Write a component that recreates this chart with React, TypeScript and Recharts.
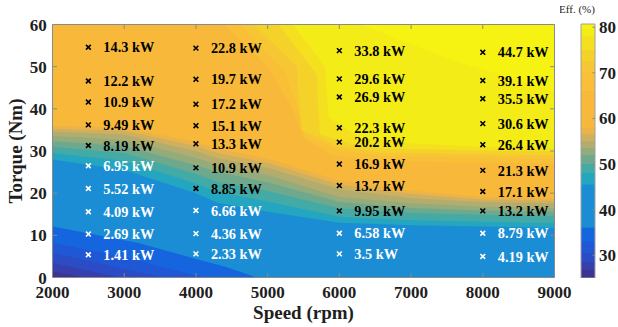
import React from 'react';
import {
  ComposedChart,
  Area,
  Scatter,
  XAxis,
  YAxis,
  ReferenceArea,
  ReferenceLine,
  Label,
} from 'recharts';

const SERIF = '"Liberation Serif", "Times New Roman", serif';

// ---- axes ----
const SPEED_TICKS = [2000, 3000, 4000, 5000, 6000, 7000, 8000, 9000];
const TORQUE_TICKS = [0, 10, 20, 30, 40, 50, 60];
const EFF_TICKS = [30, 40, 50, 60, 70, 80];
const SPEED_RANGE = [2000, 9000];
const TORQUE_RANGE = [0, 60];
const EFF_RANGE = [25, 80.7];

// ---- efficiency contours: [speed (rpm), torque (Nm)] ----
// above each curve the efficiency is at least the matching level
const C_25 = [[2000, 0], [9000, 0]];
const C_26_8 = [[2000, 1.4], [2450, 0], [9000, 0]];
const C_28_5 = [[2000, 3.5], [2930, 0], [9000, 0]];
const C_30_5 = [[2000, 5.8], [3530, 0], [9000, 0]];
const C_33 = [[2000, 8.2], [3000, 4.8], [4100, 0], [9000, 0]];
const C_36 = [[2000, 12.1], [3200, 8.2], [4000, 4.4], [4400, 2.6], [4850, 0], [9000, 0]];
const C_45_5 = [[2000, 28.0], [3000, 25.5], [4000, 20.0], [4300, 17.7], [5000, 15.6], [6000, 13.0], [7000, 12.4], [8000, 12.1], [9000, 11.8]];
const C_48 = [[2000, 29.5], [3000, 27.6], [4000, 22.3], [4300, 20.3], [5000, 18.0], [6000, 14.4], [7000, 13.6], [8000, 13.2], [9000, 12.9]];
const C_50 = [[2000, 31.0], [3000, 29.5], [4000, 24.6], [4300, 22.7], [5000, 20.5], [6000, 16.4], [7000, 15.3], [8000, 14.9], [9000, 14.6]];
const C_52 = [[2000, 32.4], [3000, 31.2], [4000, 26.6], [4300, 25.0], [5000, 22.6], [6000, 17.9], [7000, 16.5], [8000, 15.9], [9000, 15.6]];
const C_53_5 = [[2000, 33.6], [3000, 32.6], [4000, 28.4], [4300, 26.6], [5000, 24.3], [6000, 19.1], [7000, 17.6], [8000, 16.8], [9000, 16.5]];
const C_55 = [[2000, 34.6], [3000, 33.9], [4000, 30.0], [4300, 28.3], [5000, 26.0], [6000, 20.9], [7000, 18.8], [8000, 17.9], [9000, 17.6]];
const C_56_5 = [[2000, 35.3], [3000, 34.8], [4000, 31.2], [4300, 29.5], [5000, 27.2], [6000, 22.0], [7000, 19.8], [8000, 18.5], [9000, 18.2]];
const C_58 = [[2000, 36.0], [3000, 35.5], [4000, 32.2], [4300, 30.6], [5000, 28.2], [6000, 23.0], [7000, 20.6], [8000, 19.1], [9000, 18.8]];
const C_66 = [[2000, 60], [4400, 60], [5000, 50], [5350, 40], [5500, 33], [5900, 29], [6600, 27.6], [8000, 27.2], [9000, 27.0]];
const C_70 = [[2000, 60], [4620, 60], [5250, 48.5], [5420, 40], [5520, 33.5], [6000, 30.2], [6600, 28.8], [8000, 28.4], [9000, 28.2]];
const C_72_5 = [[2000, 60], [4800, 60], [5410, 50], [5430, 43], [5480, 35], [6000, 31.0], [6600, 29.6], [8000, 29.2], [9000, 29.0]];
const C_75 = [[2000, 60], [5150, 60], [5690, 48], [5700, 41.6], [5730, 34], [6200, 31.5], [6600, 30.6], [8000, 30.1], [9000, 29.9]];
const C_78 = [[2000, 60], [5350, 60], [5800, 50], [5850, 38], [6300, 33], [7000, 31.8], [8000, 31.0], [9000, 30.6]];
const C_79_5 = [[2000, 60], [6300, 60], [7500, 52], [9000, 44]];

const LEVELS = [25, 26.8, 28.5, 30.5, 33, 36, 45.5, 48, 50, 52, 53.5, 55, 56.5, 58, 66, 70, 72.5, 75, 78, 79.5];
const LEVEL_COLORS = [
  '#3b3492', '#3540ad', '#2b4cc4', '#1f57d5', '#1465de', '#1a8dd4',
  '#24a5c0', '#44aaa6', '#6fa98d', '#94ab7c', '#b2ad6e', '#cfb05e',
  '#ecb348', '#f8b93b', '#f8bf37', '#f7c634', '#f5d22a', '#f4e01f',
  '#f4ec16', '#f6f212',
];
const CONTOURS = [
  C_25, C_26_8, C_28_5, C_30_5, C_33, C_36, C_45_5, C_48, C_50, C_52,
  C_53_5, C_55, C_56_5, C_58, C_66, C_70, C_72_5, C_75, C_78, C_79_5,
];

// ---- measured operating points ----
const COLUMN_SPEEDS = [2500, 4000, 6000, 8000];
const TORQUE_2500 = [5.4, 10.3, 15.6, 21.1, 26.5, 31.3, 36.2, 41.6, 46.6, 54.6];
const POWER_2500 = [1.41, 2.69, 4.09, 5.52, 6.95, 8.19, 9.49, 10.9, 12.2, 14.3];
const TORQUE_4000 = [5.6, 10.4, 15.9, 21.1, 26.0, 31.7, 36.0, 41.1, 47.0, 54.4];
const POWER_4000 = [2.33, 4.36, 6.66, 8.85, 10.9, 13.3, 15.1, 17.2, 19.7, 22.8];
const TORQUE_6000 = [5.6, 10.5, 15.8, 21.8, 26.9, 32.1, 35.5, 42.8, 47.1, 53.8];
const POWER_6000 = [3.5, 6.58, 9.95, 13.7, 16.9, 20.2, 22.3, 26.9, 29.6, 33.8];
const TORQUE_8000 = [5.0, 10.5, 15.8, 20.4, 25.4, 31.5, 36.5, 42.4, 46.7, 53.4];
const POWER_8000 = [4.19, 8.79, 13.2, 17.1, 21.3, 26.4, 30.6, 35.5, 39.1, 44.7];
// lowest points of each column that sit on the blue region
const LIGHT_MARK_COUNT = [5, 3, 2, 2];

const COLUMN_TORQUES = [TORQUE_2500, TORQUE_4000, TORQUE_6000, TORQUE_8000];
const COLUMN_POWERS = [POWER_2500, POWER_4000, POWER_6000, POWER_8000];

type Pt = { speed: number; torque: number; power?: number };

const bands = CONTOURS.map((c, i) => ({
  level: LEVELS[i],
  color: LEVEL_COLORS[i],
  data: c.map(([speed, torque]) => ({ speed, torque })) as Pt[],
}));

const lightMarks: Pt[] = [];
const darkMarks: Pt[] = [];
COLUMN_SPEEDS.forEach((speed, c) => {
  COLUMN_TORQUES[c].forEach((torque, k) => {
    const p = { speed, torque, power: COLUMN_POWERS[c][k] };
    if (k < LIGHT_MARK_COUNT[c]) lightMarks.push(p);
    else darkMarks.push(p);
  });
});

const AXIS_GRAY = '#8a8a8a';
const TICK_LEN_T = 1.07; // torque units (~4.5px)
const TICK_LEN_S = 63; // rpm units (~4.5px)

const tickFont = {
  fontFamily: SERIF,
  fontWeight: 'bold' as const,
  fontSize: 17,
  fill: '#1e1e1e',
};

const makeMarker = (color: string) => (props: any) => {
  const { cx, cy, payload } = props;
  if (cx == null || cy == null) return <g />;
  const r = 2.4;
  return (
    <g>
      <path
        d={`M${cx - r},${cy - r}L${cx + r},${cy + r}M${cx - r},${cy + r}L${cx + r},${cy - r}`}
        stroke={color}
        strokeWidth={1.6}
        fill="none"
      />
      <text
        x={cx + 15}
        y={cy}
        dy="0.36em"
        fontFamily={SERIF}
        fontWeight="bold"
        fontSize={14.3}
        fill={color}
      >
        {`${payload.power} kW`}
      </text>
    </g>
  );
};

const TorqueTitle = (props: any) => {
  const vb = props.viewBox || { x: 0, y: 24.5, width: 52.5, height: 253 };
  const x = vb.x + 21.5;
  const y = vb.y + vb.height / 2;
  return (
    <text
      x={x}
      y={y}
      transform={`rotate(-90, ${x}, ${y})`}
      textAnchor="middle"
      fontFamily={SERIF}
      fontWeight="bold"
      fontSize={19}
      fill="#1e1e1e"
    >
      Torque (Nm)
    </text>
  );
};

const EffTitle = (props: any) => {
  const vb = props.viewBox || { x: 595, y: 24, width: 23, height: 254 };
  return (
    <text
      x={vb.x - 18}
      y={vb.y - 11}
      textAnchor="middle"
      fontFamily={SERIF}
      fontSize={11}
      fill="#1e1e1e"
    >
      Eff. (%)
    </text>
  );
};

function MainPlot() {
  return (
    <ComposedChart
      width={618}
      height={327}
      margin={{ top: 24.5, right: 63.5, bottom: 5.5, left: 0 }}
    >
      <XAxis
        type="number"
        dataKey="speed"
        domain={SPEED_RANGE}
        ticks={SPEED_TICKS}
        interval={0}
        allowDataOverflow
        height={44}
        tickSize={0}
        tickMargin={8.5}
        axisLine={false}
        tickLine={false}
        tick={tickFont}
      >
        <Label
          value="Speed (rpm)"
          position="insideBottom"
          offset={2.5}
          style={{ fontFamily: SERIF, fontWeight: 'bold', fontSize: 19, fill: '#1e1e1e' }}
        />
      </XAxis>
      <YAxis
        type="number"
        dataKey="torque"
        domain={TORQUE_RANGE}
        ticks={TORQUE_TICKS}
        interval={0}
        allowDataOverflow
        width={52.5}
        tickSize={0}
        tickMargin={5.8}
        axisLine={false}
        tickLine={false}
        tick={tickFont}
      >
        <Label content={TorqueTitle} />
      </YAxis>

      {bands.map((b) => (
        <Area
          key={`band-${b.level}`}
          data={b.data}
          dataKey={(d: Pt) => [d.torque, TORQUE_RANGE[1]]}
          type="linear"
          stroke="none"
          fill={b.color}
          fillOpacity={1}
          dot={false}
          activeDot={false}
          isAnimationActive={false}
        />
      ))}

      <Scatter
        data={lightMarks}
        shape={makeMarker('#ffffff')}
        isAnimationActive={false}
      />
      <Scatter
        data={darkMarks}
        shape={makeMarker('#000000')}
        isAnimationActive={false}
      />

      {SPEED_TICKS.slice(1, -1).map((s) => (
        <ReferenceLine
          key={`bt-${s}`}
          segment={[{ x: s, y: 0 }, { x: s, y: TICK_LEN_T }]}
          stroke={AXIS_GRAY}
          strokeWidth={1}
        />
      ))}
      {SPEED_TICKS.slice(1, -1).map((s) => (
        <ReferenceLine
          key={`tt-${s}`}
          segment={[{ x: s, y: 60 }, { x: s, y: 60 - TICK_LEN_T }]}
          stroke={AXIS_GRAY}
          strokeWidth={1}
        />
      ))}
      {TORQUE_TICKS.slice(1, -1).map((t) => (
        <ReferenceLine
          key={`lt-${t}`}
          segment={[{ x: 2000, y: t }, { x: 2000 + TICK_LEN_S, y: t }]}
          stroke={AXIS_GRAY}
          strokeWidth={1}
        />
      ))}
      {TORQUE_TICKS.slice(1, -1).map((t) => (
        <ReferenceLine
          key={`rt-${t}`}
          segment={[{ x: 9000, y: t }, { x: 9000 - TICK_LEN_S, y: t }]}
          stroke={AXIS_GRAY}
          strokeWidth={1}
        />
      ))}
      <ReferenceArea
        x1={SPEED_RANGE[0]}
        x2={SPEED_RANGE[1]}
        y1={TORQUE_RANGE[0]}
        y2={TORQUE_RANGE[1]}
        fill="none"
        fillOpacity={0}
        stroke={AXIS_GRAY}
        strokeWidth={1}
      />
    </ComposedChart>
  );
}

function ColorBar() {
  return (
    <ComposedChart
      width={58}
      height={278}
      margin={{ top: 24, right: 0, bottom: 0, left: 21 }}
    >
      <XAxis type="number" dataKey="x" domain={[0, 1]} hide allowDataOverflow />
      <YAxis
        type="number"
        orientation="right"
        domain={EFF_RANGE}
        ticks={EFF_TICKS}
        interval={0}
        allowDataOverflow
        width={23}
        tickSize={0}
        tickMargin={4}
        axisLine={false}
        tickLine={false}
        tick={tickFont}
      >
        <Label content={EffTitle} />
      </YAxis>
      {LEVELS.map((lv, i) => (
        <ReferenceArea
          key={`cb-${lv}`}
          x1={0}
          x2={1}
          y1={lv}
          y2={EFF_RANGE[1]}
          fill={LEVEL_COLORS[i]}
          fillOpacity={1}
          stroke="none"
        />
      ))}
      {EFF_TICKS.map((e) => (
        <ReferenceLine
          key={`cbt-${e}`}
          segment={[{ x: 0.82, y: e }, { x: 1, y: e }]}
          stroke={AXIS_GRAY}
          strokeWidth={1}
        />
      ))}
      <ReferenceArea
        x1={0}
        x2={1}
        y1={EFF_RANGE[0]}
        y2={EFF_RANGE[1]}
        fill="none"
        fillOpacity={0}
        stroke="#a0a0a0"
        strokeWidth={1}
      />
    </ComposedChart>
  );
}

export default function App() {
  return (
    <div style={{ position: 'absolute', left: 0, top: 0, width: 618, height: 327, background: '#ffffff' }}>
      <div style={{ position: 'absolute', left: 0, top: 0 }}>
        <MainPlot />
      </div>
      <div style={{ position: 'absolute', left: 560, top: 0 }}>
        <ColorBar />
      </div>
    </div>
  );
}
